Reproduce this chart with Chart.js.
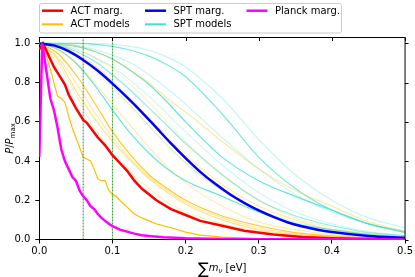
<!DOCTYPE html>
<html>
<head>
<meta charset="utf-8">
<script src="https://cdn.jsdelivr.net/npm/chart.js@4.4.0/dist/chart.umd.min.js"></script>
<style>
  html, body { margin: 0; padding: 0; background: #fff; }
  canvas { display: block; }
</style>
</head>
<body>
<canvas id="chart" width="415" height="277"></canvas>
<script>
// labels
const seriesLabels = ["ACT marg.", "ACT models", "SPT marg.", "SPT models", "Planck marg."];
const xTicks = [0, 0.1, 0.2, 0.3, 0.4, 0.5];
const yTicks = [0, 0.2, 0.4, 0.6, 0.8, 1.0];
const markerLines = [0.06, 0.1];

// marginalised curves
const actMargX = [0, 0.005, 0.01, 0.02, 0.03, 0.035, 0.04, 0.05, 0.06, 0.065, 0.07, 0.08, 0.09, 0.1, 0.11, 0.12, 0.13, 0.14, 0.16, 0.18, 0.2, 0.22, 0.25, 0.28, 0.32, 0.36, 0.4, 0.45, 0.5];
const actMargY = [0.97, 1.0, 0.96, 0.88, 0.82, 0.79, 0.74, 0.67, 0.61, 0.595, 0.57, 0.52, 0.48, 0.43, 0.39, 0.35, 0.30, 0.26, 0.20, 0.155, 0.125, 0.095, 0.07, 0.045, 0.025, 0.013, 0.007, 0.003, 0.001];

const sptMargX = [0, 0.02, 0.04, 0.06, 0.08, 0.1, 0.12, 0.14, 0.16, 0.18, 0.2, 0.22, 0.24, 0.26, 0.28, 0.3, 0.32, 0.34, 0.36, 0.38, 0.4, 0.45, 0.5];
const sptMargY = [1.0, 0.99, 0.96, 0.915, 0.86, 0.795, 0.725, 0.65, 0.57, 0.49, 0.415, 0.345, 0.285, 0.232, 0.187, 0.148, 0.115, 0.087, 0.066, 0.05, 0.038, 0.018, 0.008];

const planckX = [0, 0.004, 0.01, 0.015, 0.02, 0.025, 0.03, 0.035, 0.04, 0.045, 0.05, 0.055, 0.06, 0.065, 0.07, 0.075, 0.08, 0.085, 0.09, 0.095, 0.1, 0.11, 0.12, 0.13, 0.14, 0.15, 0.17, 0.2, 0.25, 0.3, 0.5];
const planckY = [0.42, 1.0, 0.85, 0.72, 0.66, 0.57, 0.46, 0.40, 0.36, 0.32, 0.30, 0.25, 0.22, 0.20, 0.17, 0.155, 0.13, 0.11, 0.095, 0.08, 0.068, 0.05, 0.04, 0.03, 0.022, 0.018, 0.012, 0.006, 0.002, 0.001, 0];

// the one ACT model that stands out (wiggly, below ACT marg.)
const actMainX = [0, 0.005, 0.01, 0.015, 0.02, 0.025, 0.03, 0.035, 0.04, 0.045, 0.05, 0.055, 0.06, 0.065, 0.07, 0.075, 0.08, 0.085, 0.09, 0.095, 0.1, 0.105, 0.11, 0.12, 0.13, 0.14, 0.15, 0.16, 0.18, 0.2, 0.22, 0.25, 0.3, 0.4, 0.5];
const actMainY = [0.97, 1.0, 0.93, 0.87, 0.8, 0.73, 0.72, 0.70, 0.63, 0.57, 0.52, 0.47, 0.42, 0.41, 0.40, 0.36, 0.31, 0.30, 0.30, 0.25, 0.23, 0.22, 0.2, 0.165, 0.13, 0.11, 0.095, 0.08, 0.06, 0.038, 0.022, 0.012, 0.004, 0.001, 0];

// the other model curves, all on one x grid
const modelX = [0, 0.025, 0.05, 0.075, 0.1, 0.125, 0.15, 0.175, 0.2, 0.25, 0.3, 0.35, 0.4, 0.45, 0.5];
const actModels = [
  [1, 0.95, 0.84, 0.7, 0.55, 0.43, 0.33, 0.26, 0.2, 0.12, 0.07, 0.035, 0.018, 0.008, 0.003],
  [1, 1, 0.99, 0.96, 0.92, 0.86, 0.8, 0.72, 0.65, 0.5, 0.36, 0.25, 0.17, 0.09, 0.04],
  [1, 0.99, 0.95, 0.89, 0.81, 0.72, 0.62, 0.52, 0.43, 0.28, 0.17, 0.1, 0.05, 0.025, 0.01],
  [1, 0.97, 0.9, 0.8, 0.69, 0.58, 0.47, 0.37, 0.29, 0.17, 0.09, 0.05, 0.025, 0.012, 0.005],
  [1, 0.93, 0.8, 0.65, 0.52, 0.41, 0.32, 0.25, 0.19, 0.11, 0.06, 0.03, 0.015, 0.007, 0.003],
  [1, 0.9, 0.74, 0.57, 0.44, 0.34, 0.26, 0.19, 0.14, 0.08, 0.04, 0.02, 0.01, 0.005, 0.002],
  [1, 0.92, 0.76, 0.62, 0.5, 0.4, 0.31, 0.24, 0.18, 0.1, 0.05, 0.025, 0.012, 0.006, 0.002],
  [1, 0.995, 0.97, 0.93, 0.87, 0.79, 0.7, 0.6, 0.5, 0.33, 0.2, 0.11, 0.06, 0.03, 0.015],
  [1, 0.98, 0.93, 0.86, 0.77, 0.68, 0.58, 0.48, 0.39, 0.25, 0.15, 0.08, 0.04, 0.02, 0.01]
];
const sptModels = [
  [1, 1, 1, 0.995, 0.985, 0.965, 0.935, 0.89, 0.83, 0.64, 0.42, 0.26, 0.15, 0.08, 0.04],
  [1, 1, 1, 1, 0.995, 0.985, 0.965, 0.93, 0.88, 0.72, 0.51, 0.33, 0.2, 0.11, 0.06],
  [1, 0.995, 0.985, 0.96, 0.92, 0.86, 0.79, 0.7, 0.6, 0.42, 0.3, 0.22, 0.15, 0.08, 0.035],
  [1, 0.99, 0.96, 0.91, 0.84, 0.76, 0.67, 0.58, 0.49, 0.33, 0.2, 0.12, 0.07, 0.035, 0.02],
  [1, 0.97, 0.9, 0.79, 0.66, 0.54, 0.44, 0.36, 0.3, 0.22, 0.14, 0.08, 0.05, 0.025, 0.012],
  [1, 0.998, 0.99, 0.97, 0.94, 0.9, 0.84, 0.77, 0.69, 0.52, 0.36, 0.23, 0.14, 0.08, 0.04],
  [1, 0.99, 0.97, 0.93, 0.88, 0.81, 0.73, 0.64, 0.55, 0.38, 0.24, 0.14, 0.08, 0.04, 0.02],
  [1, 0.98, 0.94, 0.87, 0.78, 0.68, 0.58, 0.48, 0.39, 0.25, 0.15, 0.09, 0.05, 0.03, 0.015]
];

// styles
const RED = "#ff0000", BLUE = "#0000ff", MAGENTA = "#ff00ff";
const GOLD = "255,191,0", TURQ = "64,224,208";
const actAlpha = [0.85, 0.35, 0.3, 0.3, 0.35, 0.25, 0.45, 0.2, 0.2];
const sptAlpha = [0.7, 0.3, 0.8, 0.6, 0.8, 0.3, 0.25, 0.2];
const FONT = '"DejaVu Sans", sans-serif';

function pts(xs, ys) {
  return xs.map((x, i) => ({ x: x, y: ys[i] }));
}

const datasets = [];
datasets.push({ label: seriesLabels[4], data: pts(planckX, planckY), borderColor: MAGENTA, borderWidth: 2.5, order: 0 });
datasets.push({ label: seriesLabels[2], data: pts(sptMargX, sptMargY), borderColor: BLUE, borderWidth: 2.5, cubicInterpolationMode: "monotone", order: 0 });
datasets.push({ label: seriesLabels[0], data: pts(actMargX, actMargY), borderColor: RED, borderWidth: 2.5, order: 0 });
markerLines.forEach(v => {
  datasets.push({ data: [{ x: v, y: 0 }, { x: v, y: 1.03 }], borderColor: "#008000", borderWidth: 0.8, borderDash: [2, 1], order: 1 });
});
datasets.push({ label: seriesLabels[1], data: pts(actMainX, actMainY), borderColor: "rgb(" + GOLD + ")", borderWidth: 1.2, order: 2 });
actModels.forEach((ys, i) => {
  datasets.push({ data: pts(modelX, ys), borderColor: "rgba(" + GOLD + "," + actAlpha[i] + ")", borderWidth: 1.2, cubicInterpolationMode: "monotone", order: 3 });
});
sptModels.forEach((ys, i) => {
  datasets.push({ data: pts(modelX, ys), borderColor: "rgba(" + TURQ + "," + sptAlpha[i] + ")", borderWidth: 1.2, cubicInterpolationMode: "monotone", order: 3 });
});

// legend, top/right ticks, axis titles
const decor = {
  id: "decor",
  afterDraw(chart) {
    const ctx = chart.ctx, a = chart.chartArea;
    const xs = chart.scales.x, ys = chart.scales.y;
    ctx.save();
    // frame top/right
    ctx.strokeStyle = "#000";
    ctx.lineWidth = 1;
    ctx.beginPath();
    ctx.moveTo(a.left, a.top); ctx.lineTo(a.right, a.top); ctx.lineTo(a.right, a.bottom);
    ctx.stroke();
    ctx.beginPath();
    xTicks.forEach(v => {
      const px = Math.round(xs.getPixelForValue(v)) + 0.5;
      ctx.moveTo(px, a.top); ctx.lineTo(px, a.top + 3.5);
    });
    yTicks.forEach(v => {
      const py = Math.round(ys.getPixelForValue(v)) + 0.5;
      ctx.moveTo(a.right, py); ctx.lineTo(a.right + 3.5, py);
    });
    ctx.stroke();

    // legend
    ctx.fillStyle = "rgba(255,255,255,0.8)";
    ctx.strokeStyle = "#cccccc";
    ctx.beginPath();
    ctx.roundRect(39.5, 3.5, 302, 29.5, 2);
    ctx.fill(); ctx.stroke();
    const items = [
      { t: seriesLabels[0], c: RED, w: 2.5, x: 42, y: 10.7 },
      { t: seriesLabels[1], c: "rgb(" + GOLD + ")", w: 2, x: 42, y: 24.3 },
      { t: seriesLabels[2], c: BLUE, w: 2.5, x: 145, y: 10.7 },
      { t: seriesLabels[3], c: "rgb(" + TURQ + ")", w: 2, x: 145, y: 24.3 },
      { t: seriesLabels[4], c: MAGENTA, w: 2.5, x: 246.5, y: 10.7 }
    ];
    ctx.font = "10px " + FONT;
    ctx.textBaseline = "middle";
    ctx.textAlign = "left";
    items.forEach(it => {
      ctx.strokeStyle = it.c; ctx.lineWidth = it.w;
      ctx.beginPath(); ctx.moveTo(it.x, it.y); ctx.lineTo(it.x + 21, it.y); ctx.stroke();
      ctx.fillStyle = "#000";
      ctx.fillText(it.t, it.x + 28.5, it.y + 0.5);
    });

    // x title: sum m_nu [eV]
    ctx.textBaseline = "alphabetic";
    ctx.fillStyle = "#000";
    const parts = [
      { s: "\u2211", f: "16px " + FONT, dy: 3 },
      { s: "m", f: "italic 10px " + FONT, dy: 0 },
      { s: "\u03bd", f: "italic 7px " + FONT, dy: 2 },
      { s: " [eV]", f: "10px " + FONT, dy: 0 }
    ];
    let tw = 0;
    parts.forEach(p => { ctx.font = p.f; p.w = ctx.measureText(p.s).width; tw += p.w; });
    let cx = (a.left + a.right) / 2 - tw / 2;
    parts.forEach(p => { ctx.font = p.f; ctx.fillText(p.s, cx, 270.5 + p.dy); cx += p.w; });

    // y title: P/P_max
    const yp = [
      { s: "P", f: "italic 10px " + FONT, dy: 0 },
      { s: "/", f: "10px " + FONT, dy: 0 },
      { s: "P", f: "italic 10px " + FONT, dy: 0 },
      { s: "max", f: "7px " + FONT, dy: 2 }
    ];
    tw = 0;
    yp.forEach(p => { ctx.font = p.f; p.w = ctx.measureText(p.s).width; tw += p.w; });
    ctx.translate(12.5, (a.top + a.bottom) / 2);
    ctx.rotate(-Math.PI / 2);
    cx = -tw / 2;
    yp.forEach(p => { ctx.font = p.f; ctx.fillText(p.s, cx, p.dy); cx += p.w; });
    ctx.restore();
  }
};

new Chart(document.getElementById("chart").getContext("2d"), {
  type: "line",
  data: { datasets: datasets },
  options: {
    responsive: false,
    animation: false,
    devicePixelRatio: 1,
    layout: { padding: { top: 37.5, right: 9.5, left: 0, bottom: 0 } },
    elements: { point: { radius: 0 }, line: { tension: 0, fill: false } },
    plugins: { legend: { display: false }, tooltip: { enabled: false } },
    scales: {
      x: {
        type: "linear", min: 0, max: 0.5,
        afterFit: s => { s.height = 37.5; },
        afterBuildTicks: s => { s.ticks = xTicks.map(v => ({ value: v })); },
        ticks: { color: "#000", font: { family: FONT, size: 10 }, padding: 2, maxRotation: 0, callback: v => v.toFixed(1) },
        grid: { drawOnChartArea: false, tickLength: 4, tickColor: "#000" },
        border: { color: "#000", width: 1 }
      },
      y: {
        type: "linear", min: 0, max: 1.03,
        afterFit: s => { s.width = 39.3; },
        afterBuildTicks: s => { s.ticks = yTicks.map(v => ({ value: v })); },
        ticks: { color: "#000", font: { family: FONT, size: 10 }, padding: 5, callback: v => v.toFixed(1) },
        grid: { drawOnChartArea: false, tickLength: 4, tickColor: "#000" },
        border: { color: "#000", width: 1 }
      }
    }
  },
  plugins: [decor]
});
</script>
</body>
</html>
